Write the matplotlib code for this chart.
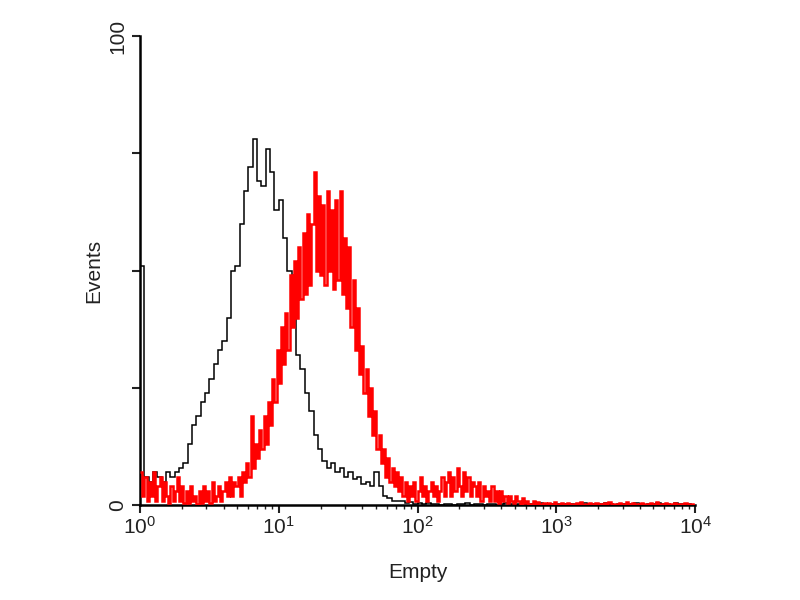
import matplotlib
matplotlib.use('Agg')
import matplotlib.pyplot as plt
import numpy as np
from matplotlib.ticker import LogLocator, FixedLocator, FixedFormatter

plt.rcParams['font.family'] = ['Liberation Sans', 'DejaVu Sans']

# histogram channels over 10^0 .. 10^4 (log spaced)
black_counts = [
    51, 6, 5, 7, 6, 5, 7, 6, 7, 8,
    9, 13, 17, 19, 22, 24, 27, 30, 33, 35,
    40, 50, 51, 60, 67, 72, 78, 69, 68, 76,
    71, 63, 65, 57, 50, 40, 32, 29, 24, 20,
    15, 12, 9.5, 8, 9, 7, 8, 6, 7, 5.5,
    6, 4.5, 5, 4, 7, 4, 2, 1.5, 1, 1,
    0.8, 0.5, 0.6, 0.3, 0.5, 0.2, 0.4, 0.2, 0.3, 0.1,
    0.3, 0.2, 0.1, 0.3, 0.2, 0.4, 0.1, 0.2, 0.3, 0.1,
    0.2, 0.3, 0.1, 0.2, 0.4, 0.2, 0.1, 0.3, 0.2, 0.1,
    0.3, 0.2, 0.4, 0.1, 0.2, 0.3, 0.2, 0.1, 0.3, 0.2,
    0.1, 0.2, 0.4, 0.2, 0.3, 0.1, 0.2, 0.5, 0.2, 0.1,
    0.3, 0.2, 0.1, 0.3, 0.4, 0.2, 0.1, 0.3, 0.2, 0.4,
    0.2, 0.3, 0.1, 0.5, 0.2, 0.3, 0.2, 0.1,
]

red_counts = [
    7, 2, 6, 1, 5, 2, 7, 1, 4, 6,
    1, 5, 2, 0.5, 4, 1, 3, 6, 1, 4,
    0.5, 3, 0.5, 4, 1, 2, 0.3, 3, 0.5, 4,
    1, 3, 0.5, 5, 1, 2, 4, 1, 3, 5,
    2, 6, 2, 5, 4, 6, 2, 7, 5, 9,
    6, 19, 8, 13, 10, 16, 12, 19, 13, 22,
    17, 27, 22, 33, 26, 38, 30, 41, 33, 49,
    38, 52, 40, 55, 44, 58, 45, 62, 47, 60,
    71, 50, 66, 49, 64, 47, 67, 50, 63, 46,
    65, 48, 67, 45, 57, 42, 55, 38, 48, 33,
    42, 28, 34, 24, 29, 19, 25, 15, 20, 12,
    15, 9, 12, 6, 10, 5, 8, 4, 7, 3,
    6, 2, 5, 1, 4, 2, 5, 1, 3, 6,
    2, 4, 1, 3, 5, 2, 4, 1, 3, 6,
    2, 5, 7, 2, 6, 3, 8, 4, 2, 7,
    3, 6, 2, 5, 4, 2, 5, 1, 4, 2,
    3, 1, 4, 1, 3, 0.5, 3, 1, 2, 0.5,
    2, 1, 0.5, 2, 1, 0.3, 1.5, 0.5, 1, 0.3,
    0.2, 0.8, 0.1, 0.6, 0.3, 0.2, 0.5, 0.1, 0.4, 0.2,
    0.3, 0.6, 0.1, 0.2, 0.4, 0.3, 0.1, 0.5, 0.2, 0.3,
    0.1, 0.4, 0.2, 0.6, 0.1, 0.3, 0.2, 0.4, 0.1, 0.2,
    0.5, 0.3, 0.1, 0.2, 0.4, 0.2, 0.7, 0.1, 0.3, 0.2,
    0.1, 0.4, 0.2, 0.3, 0.6, 0.1, 0.2, 0.5, 0.3, 0.1,
    0.2, 0.4, 0.1, 0.3, 0.2, 0.5, 0.1, 0.2, 0.6, 0.3,
    0.1, 0.2, 0.4, 0.2, 0.1, 0.3, 0.5, 0.2, 0.1, 0.3,
    0.2, 0.4, 0.1, 0.3, 0.2, 0.1,
]

x_label = 'Empty'
y_label = 'Events'
y_ticks = [0, 25, 50, 75, 100]
y_ticklabels = ['0', '', '', '', '100']

fig = plt.figure(figsize=(8, 6), dpi=100)
ax = fig.add_axes([0.175, 0.158, 0.694, 0.782])

black_edges = np.logspace(0, 4, len(black_counts) + 1)
red_edges = np.logspace(0, 4, len(red_counts) + 1)

ax.stairs(black_counts, black_edges, color='black', linewidth=1.1, baseline=None, zorder=2)
ax.stairs(red_counts, red_edges, color='#ff0000', linewidth=1.8, baseline=None, zorder=3)

ax.set_xscale('log')
ax.set_xlim(1, 1e4)
ax.set_ylim(0, 100)

# only left and bottom spines
for side in ['top', 'right']:
    ax.spines[side].set_visible(False)
ax.spines['left'].set_linewidth(1.8)
ax.spines['bottom'].set_linewidth(1.8)

ax.xaxis.set_major_locator(LogLocator(base=10, numticks=10))
ax.xaxis.set_minor_locator(LogLocator(base=10, subs=np.arange(2, 10), numticks=10))
ax.tick_params(axis='x', which='major', length=6, width=1.5, labelsize=15, pad=2, colors='#222222')
ax.tick_params(axis='x', which='minor', length=3, width=1.0, colors='#222222')

ax.yaxis.set_major_locator(FixedLocator(y_ticks))
ax.yaxis.set_major_formatter(FixedFormatter(y_ticklabels))
ax.tick_params(axis='y', which='major', length=6, width=1.5, labelsize=15, pad=3, colors='#222222')
for lbl in ax.get_yticklabels():
    lbl.set_rotation(90)
    lbl.set_va('center')

ax.set_xlabel(x_label, fontsize=15, color='#222222', labelpad=18)
ax.set_ylabel(y_label, fontsize=15, color='#222222', labelpad=4)

fig.savefig('out.png', dpi=100)
